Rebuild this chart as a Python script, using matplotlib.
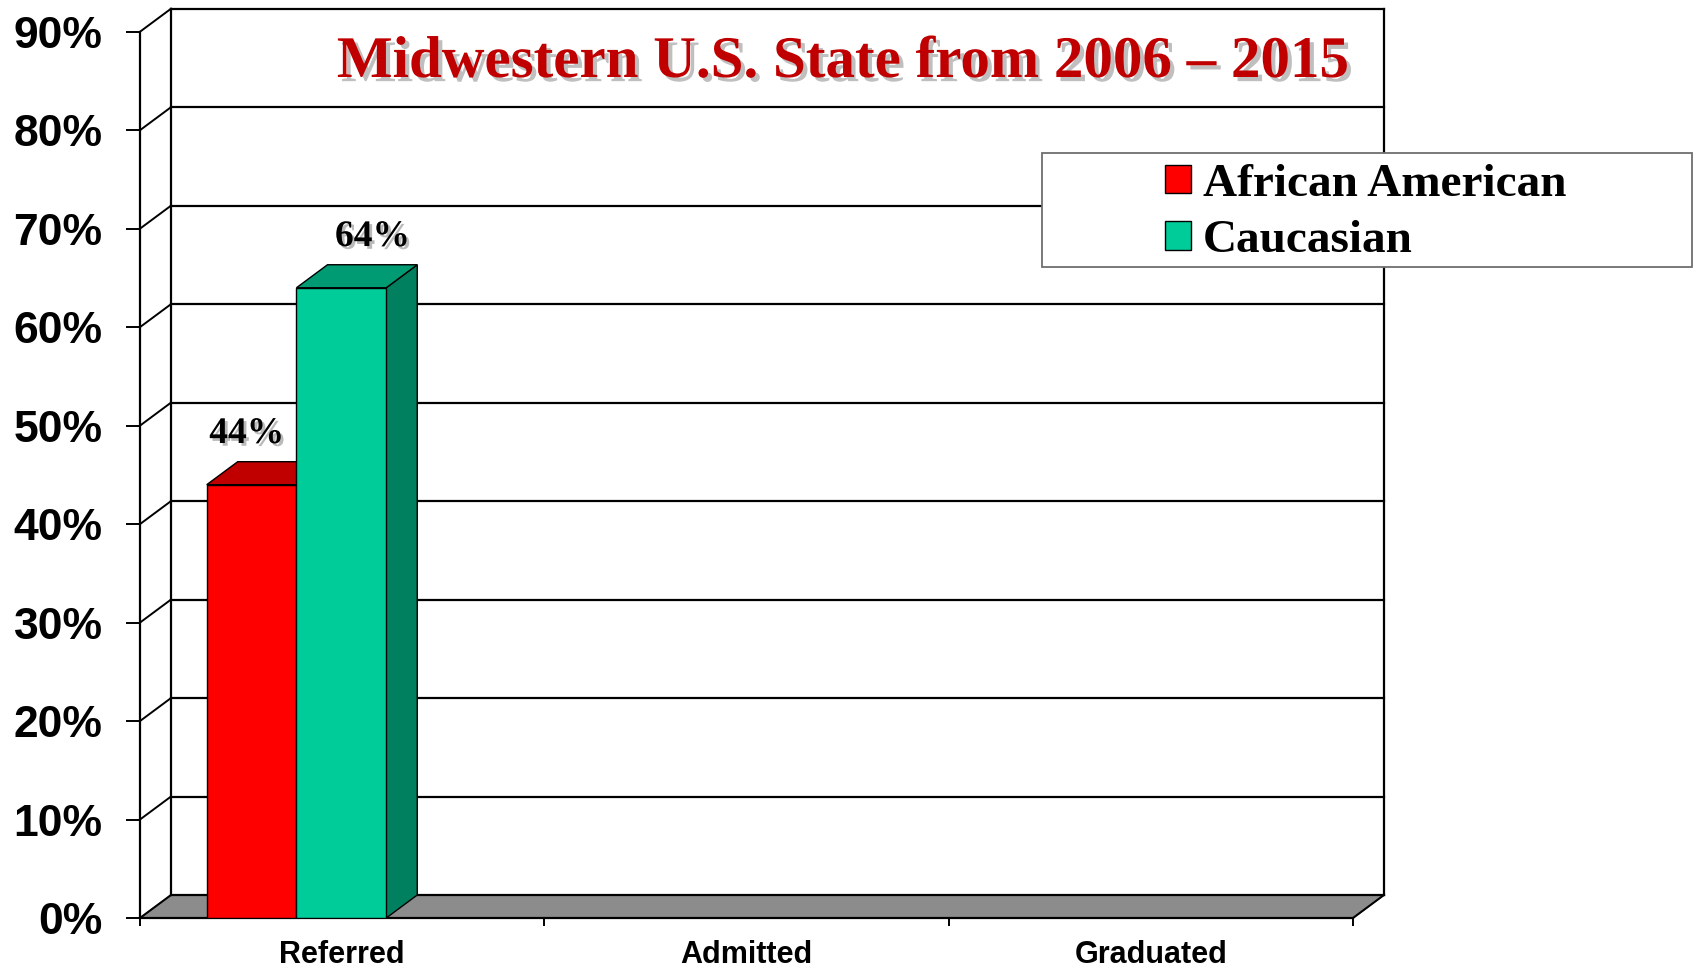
import matplotlib
matplotlib.use("Agg")
import matplotlib.pyplot as plt
import matplotlib.patches as mpatches
import matplotlib.patheffects as pe
import numpy as np

# data
categorias = ['Referred', 'Admitted', 'Graduated']
african_american = [44, np.nan, np.nan]
caucasian = [64, np.nan, np.nan]
series_names = ['African American', 'Caucasian']
yticks = [0, 10, 20, 30, 40, 50, 60, 70, 80, 90]
ytick_labels = ['0%', '10%', '20%', '30%', '40%', '50%', '60%', '70%', '80%', '90%']
titulo = 'Midwestern U.S. State from 2006 \u2013 2015'

#-------------------------------------------------------------------------------

W, H = 1699, 969
fig = plt.figure(figsize=(W / 100, H / 100), dpi=100)

x_left_px, x_right_px = 140, 1384
y_zero_px, y_top_px = 918, 8.7
ax = fig.add_axes([x_left_px / W, (H - y_zero_px) / H,
                   (x_right_px - x_left_px) / W, (y_zero_px - y_top_px) / H])

px_cat = 404.0
px_pct = 9.84
dx = 31 / px_cat
dy = 23 / px_pct
x0, x1 = -0.5, len(categorias) - 0.5
ymax = 90

ax.set_xlim(x0, x1 + dx)
ax.set_ylim(0, ymax + dy)
ax.patch.set_visible(False)

# floor
floor = mpatches.Polygon([(x0, 0), (x1, 0), (x1 + dx, dy), (x0 + dx, dy)],
                         closed=True, facecolor='#8c8c8c', edgecolor='#555555',
                         lw=1.2, clip_on=False, zorder=1)
ax.add_patch(floor)

# back wall gridlines + connectors
for v in yticks:
    ax.plot([x0 + dx, x1 + dx], [v + dy, v + dy], color='black', lw=1.6,
            clip_on=False, zorder=1.5)
    ax.plot([x0, x0 + dx], [v, v + dy], color='black', lw=1.4,
            clip_on=False, zorder=1.5)
ax.plot([x0 + dx, x0 + dx], [dy, ymax + dy], color='black', lw=1.6, clip_on=False, zorder=1.5)
ax.plot([x1 + dx, x1 + dx], [dy, ymax + dy], color='black', lw=1.6, clip_on=False, zorder=1.5)
ax.plot([x1, x1 + dx], [0, dy], color='black', lw=1.4, clip_on=False, zorder=1.5)

# bars (3d look)
ancho = 0.222
offsets = [-0.224, -0.002]
frentes = ['#ff0000', '#00cc99']
techos = ['#c00000', '#009a73']
lados = ['#a00000', '#00805f']
label_shift = [-0.012, 0.077]

for k, vals in enumerate([african_american, caucasian]):
    for i, v in enumerate(vals):
        if np.isnan(v):
            continue
        xa = i + offsets[k] - ancho / 2
        xb = xa + ancho
        z = 3 + k
        ax.add_patch(mpatches.Polygon([(xb, 0), (xb + dx, dy), (xb + dx, v + dy), (xb, v)],
                                      closed=True, facecolor=lados[k], edgecolor='black',
                                      lw=1.0, zorder=z, clip_on=False))
        ax.add_patch(mpatches.Polygon([(xa, v), (xb, v), (xb + dx, v + dy), (xa + dx, v + dy)],
                                      closed=True, facecolor=techos[k], edgecolor='black',
                                      lw=1.0, zorder=z, clip_on=False))
        ax.bar(i + offsets[k], v, width=ancho, color=frentes[k], edgecolor='black',
               lw=1.0, zorder=z + 0.5, label=series_names[k] if i == 0 else None)
        ax.text(i + offsets[k] + label_shift[k], v + 5.2, '%d%%' % v,
                ha='center', va='center', fontsize=27, fontweight='bold',
                family='Liberation Serif', color='black', zorder=10,
                path_effects=[pe.withSimplePatchShadow(offset=(2, -2), shadow_rgbFace='0.55', alpha=0.6)])

#-------------------------------------------------------------------------------
# axes

for s in ['top', 'right']:
    ax.spines[s].set_visible(False)
ax.spines['left'].set_bounds(0, ymax)
ax.spines['bottom'].set_bounds(x0, x1)
ax.spines['left'].set_linewidth(1.6)
ax.spines['bottom'].set_linewidth(1.6)
ax.spines['left'].set_zorder(2)
ax.spines['bottom'].set_zorder(2)

ax.set_yticks(yticks)
ax.set_yticklabels(ytick_labels, fontsize=32, fontweight='bold', family='Liberation Sans')
ax.tick_params(axis='y', length=10, width=1.4, pad=17)

ax.set_xticks(range(len(categorias)))
ax.set_xticklabels(categorias, fontsize=22, fontweight='bold', family='Liberation Sans')
ax.set_xticks(np.arange(x0, x1 + 0.01, 1.0), minor=True)
ax.tick_params(axis='x', which='major', length=0, pad=16)
ax.tick_params(axis='x', which='minor', length=6, width=1.4)

#-------------------------------------------------------------------------------
# title

fig.text(843 / W, 1 - 63 / H, titulo, ha='center', va='center', fontsize=42.5,
         fontweight='bold', family='Liberation Serif', color='#c00000', zorder=10,
         path_effects=[pe.withSimplePatchShadow(offset=(3, -3), shadow_rgbFace='0.5', alpha=0.5)])

# legend

caja = mpatches.Rectangle((1042 / W, 1 - 267 / H), 650 / W, 114 / H,
                          transform=fig.transFigure, facecolor='white',
                          edgecolor='#6e6e6e', lw=1.3, zorder=5)
fig.add_artist(caja)
handles, labels = ax.get_legend_handles_labels()
leg = fig.legend(handles, labels, loc='center', bbox_to_anchor=(1366 / W, 1 - 213 / H),
                 frameon=False, prop={'family': 'Liberation Serif', 'weight': 'bold', 'size': 34},
                 handlelength=0.55, handleheight=0.55, handletextpad=0.25, labelspacing=0.3,
                 borderpad=0)
leg.set_zorder(6)

plt.savefig('out.png', dpi=100)
